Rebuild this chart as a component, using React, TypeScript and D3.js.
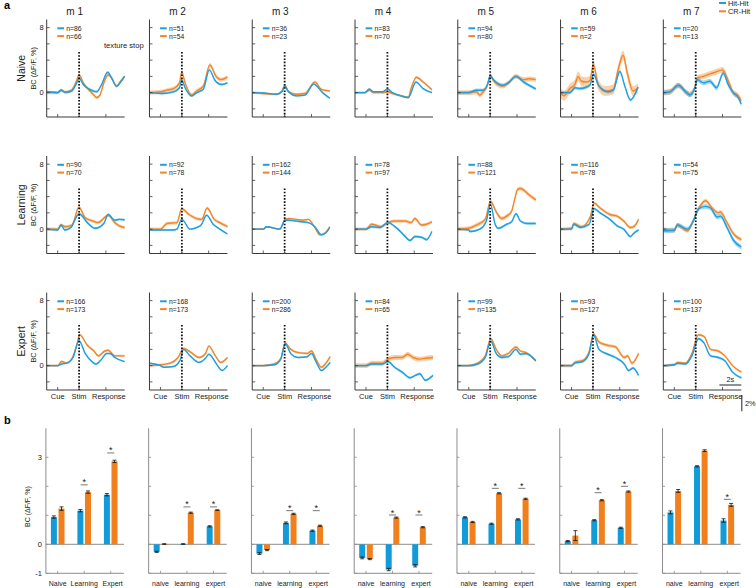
import React from "react";
import * as d3 from "d3";

type Pt = [number, number];

const FONT = "'Liberation Sans', Arial, sans-serif";
const BLUE = "#1d9fe4";
const ORANGE = "#f2862b";
const BAR_BLUE = "#119bd8";
const BAR_ORANGE = "#f07f1c";

const MICE = ["m 1", "m 2", "m 3", "m 4", "m 5", "m 6", "m 7"];
const STAGES = ["Naive", "Learning", "Expert"];
const TIME_TICKS = [1.0, 2.95, 5.39];
const TIME_LABELS = ["Cue", "Stim", "Response"];
const Y_TICKS = [-2, 0, 2, 4, 6, 8];
const Y_LABELS = [0, 8];

const N_HIT = [
  [86, 51, 36, 83, 94, 59, 20],
  [90, 92, 162, 78, 88, 116, 54],
  [166, 168, 200, 84, 99, 93, 100],
];
const N_CR = [
  [66, 54, 23, 70, 80, 2, 13],
  [70, 78, 144, 97, 121, 78, 75],
  [173, 173, 286, 65, 135, 127, 137],
];

const naiveHit: Pt[][] = [
  [[0,0.1],[1.0,0],[1.3,0.3],[1.7,0.05],[2.27,0.2],[2.73,1.2],[2.94,1.8],[3.33,1.0],[3.79,0.5],[4.24,0.2],[4.55,0.1],[5.0,1.0],[5.55,2.5],[5.91,1.8],[6.36,0.8],[6.73,1.3],[7.09,2.0]],
  [[0,0],[1.12,-0.1],[2.18,0.1],[2.73,0.6],[2.94,1.55],[3.24,0.6],[3.85,-0.4],[4.3,0],[4.9,0.4],[5.45,2.8],[5.97,1.5],[6.58,1.0],[7.1,1.2]],
  [[0,0],[1.0,-0.05],[2.2,-0.2],[2.7,0.1],[2.97,0.8],[3.2,0.3],[4.03,-0.4],[4.8,-0.3],[5.6,1.05],[6.4,0.0],[7.06,-0.7]],
  [[0,0],[0.9,0],[1.3,0.45],[1.7,0.1],[2.5,0.1],[2.97,0.45],[3.4,0],[4.2,-0.4],[4.85,-0.6],[5.55,1.3],[6.2,0.5],[7.0,0]],
  [[0,0],[1.0,0],[1.7,0.3],[2.3,0.3],[2.7,1.0],[2.95,2.05],[3.3,1.5],[4.1,0.9],[4.6,1.2],[5.3,2.0],[6.0,1.3],[6.5,0.9],[7.1,0.45]],
  [[0,0],[0.85,0],[1.3,0.6],[1.76,0.5],[2.2,0.6],[2.67,0.9],[3.0,2.25],[3.42,1.0],[3.88,0.3],[4.33,0.1],[4.8,0.3],[5.4,2.6],[5.85,0.8],[6.36,-0.9],[7.06,0.7]],
  [[0,0],[0.6,0.1],[1.36,0.9],[2.12,0],[2.42,-0.3],[2.88,0.6],[3.1,1.6],[3.64,1.2],[4.24,1.4],[4.85,0.6],[5.45,2.4],[5.9,1.0],[6.36,0],[6.82,-0.6],[7.09,-1.4]],
];
const naiveCR: Pt[][] = [
  [[0,0],[1.0,0],[1.3,0.3],[1.7,0.05],[2.27,0.3],[2.73,1.5],[2.94,2.2],[3.33,1.2],[3.79,0.4],[4.24,-0.2],[4.55,-0.6],[4.85,-0.3],[5.2,1.2],[5.6,2.2],[5.91,1.8],[6.36,0.8],[6.73,1.4],[7.09,2.0]],
  [[0,0],[1.0,0.1],[1.6,0.3],[2.2,0.5],[2.73,1.2],[2.94,2.5],[3.24,1.2],[3.85,-0.3],[4.3,0.2],[4.9,0.8],[5.5,3.4],[6.06,2.0],[6.5,1.6],[7.1,1.9]],
  [[0,0],[1.0,-0.1],[2.2,-0.2],[2.7,0.2],[2.97,0.9],[3.3,0.1],[4.03,-0.2],[4.8,-0.1],[5.7,1.3],[6.3,0.4],[7.06,0.2]],
  [[0,0],[0.9,0],[1.3,0.3],[1.7,0],[2.5,0],[2.97,0.1],[3.4,-0.1],[4.2,-0.4],[4.85,-0.6],[5.1,0.5],[5.6,1.9],[6.2,1.3],[7.0,0.35]],
  [[0,0],[1.0,0],[1.7,0.1],[2.0,-0.3],[2.3,0.1],[2.7,0.9],[2.95,2.1],[3.3,1.4],[4.1,0.8],[4.6,1.2],[5.3,2.0],[6.0,1.6],[6.5,1.7],[7.1,1.6]],
  [[0,0],[0.3,-0.4],[0.85,0.5],[1.3,1.0],[1.6,2.0],[1.9,1.4],[2.36,1.3],[2.67,1.5],[3.0,3.4],[3.42,1.0],[4.03,0.2],[4.8,0.4],[5.24,2.8],[5.7,4.6],[6.06,2.5],[6.6,0.2],[7.06,0.6]],
  [[0,0],[0.6,0.1],[1.36,0.9],[2.12,0],[2.42,-0.2],[2.88,0.7],[3.1,1.8],[3.64,2.0],[4.24,2.3],[4.7,2.5],[5.4,2.8],[5.9,1.5],[6.36,0],[6.82,-0.4],[7.09,-1.0]],
];
const learningHit: Pt[][] = [
  [[0,0],[1.0,-0.1],[1.3,0.5],[1.65,-0.1],[2.2,0.2],[2.94,1.9],[3.7,0.8],[4.4,0.1],[5.2,0.7],[5.6,1.8],[6.2,1.1],[6.6,1.2],[7.09,1.15]],
  [[0,-0.1],[1.0,-0.1],[2.2,-0.1],[2.5,0],[2.94,1.2],[3.7,0],[4.3,0.2],[4.7,0.5],[5.2,1.7],[5.8,0.6],[6.4,0],[7.1,-0.6]],
  [[0,0],[1.0,0],[1.3,0.3],[2.5,0],[3.0,1.1],[3.3,1.1],[3.9,1.0],[4.5,0.9],[5.1,0.8],[5.7,0.3],[6.3,-0.7],[6.75,-0.4],[7.06,0.2]],
  [[0,0],[1.0,0],[1.5,0.3],[2.27,0.2],[2.97,0.8],[3.9,0],[4.5,-0.8],[5.0,-1.4],[5.45,-0.9],[6.06,-1.0],[6.5,-1.3],[7.0,-0.3]],
  [[0,0],[1.0,-0.1],[1.1,-0.3],[2.0,0],[2.6,1.0],[2.97,3.1],[3.4,0.6],[3.7,0.1],[4.45,0.6],[4.9,0.9],[5.3,1.9],[5.7,1.0],[6.3,0.7],[7.1,0.7]],
  [[0,0],[1.0,0],[1.2,0.6],[1.8,0.2],[2.6,0.6],[3.05,2.5],[3.6,2.0],[4.5,1.2],[5.15,0.4],[5.75,0],[6.36,-0.9],[6.67,-0.5],[7.1,-0.1]],
  [[0,-0.2],[1.0,-0.1],[1.27,0.5],[2.2,0],[2.8,1.2],[3.2,2.5],[3.85,2.8],[4.3,2.6],[4.9,1.5],[5.2,1.6],[5.8,0.2],[6.4,-1.4],[7.1,-2.2]],
];
const learningCR: Pt[][] = [
  [[0,0],[1.0,0],[1.3,0.5],[1.7,0.3],[2.3,0.5],[2.94,2.7],[3.5,1.4],[4.2,1.0],[4.65,0.8],[5.6,1.7],[6.2,0.8],[6.6,0.4],[7.09,0.2]],
  [[0,0],[1.0,0],[1.6,0.7],[2.5,0.8],[2.94,2.5],[3.6,1.8],[4.3,1.3],[4.75,1.2],[5.25,2.6],[5.9,1.2],[6.4,0.8],[7.1,0.3]],
  [[0,0],[1.0,0],[1.3,0.3],[2.5,0],[3.0,1.2],[3.3,1.3],[4.03,1.2],[4.6,1.1],[5.1,1.2],[5.7,0.2],[6.15,-0.7],[6.6,-0.5],[7.06,0.3]],
  [[0,0],[1.0,0],[1.5,0.6],[2.4,0.3],[2.97,0.8],[3.6,1.0],[4.6,1.0],[5.1,0.8],[5.45,1.3],[6.06,0.5],[6.5,0.6],[7.0,0.9]],
  [[0,0],[1.0,0.1],[1.7,0.5],[2.5,1.2],[2.97,3.4],[3.55,2.0],[4.0,1.3],[4.45,1.6],[4.9,2.2],[5.15,3.5],[5.45,4.9],[5.7,5.0],[6.5,4.2],[7.1,3.6]],
  [[0,0],[1.0,0.1],[1.2,0.7],[1.9,0.3],[2.7,1.5],[3.05,3.2],[3.6,2.6],[4.5,1.8],[5.15,1.6],[5.75,1.0],[6.36,0.2],[6.67,0.3],[7.1,1.2]],
  [[0,0],[1.0,-0.2],[1.27,0.5],[2.2,-0.2],[2.8,1.3],[3.2,2.5],[3.85,3.5],[4.5,2.5],[5.0,2.0],[5.2,2.1],[5.8,0.8],[6.4,-0.6],[7.1,-1.3]],
];
const expertHit: Pt[][] = [
  [[0,0],[1.0,0],[1.36,0.2],[1.8,0.3],[2.4,1.0],[2.94,3.1],[3.5,1.5],[4.2,0.4],[4.5,0.2],[5.0,0.8],[5.45,1.5],[5.76,1.5],[6.2,1.0],[7.09,0.5]],
  [[0,0.3],[1.0,0],[1.3,-0.2],[2.2,-0.1],[2.8,0.7],[3.1,2.0],[3.7,1.2],[4.5,0.4],[5.1,0.9],[5.4,1.4],[6.2,0],[6.6,-0.6],[7.1,0]],
  [[0,0],[1.0,0],[2.0,0.1],[2.6,0.8],[3.0,2.7],[3.5,1.5],[4.2,1.0],[5.0,1.1],[5.4,1.5],[5.8,0.5],[6.3,-0.6],[6.7,-0.2],[7.1,0.4]],
  [[0,0],[1.0,0],[1.5,0.2],[2.5,0.2],[3.0,0.5],[3.6,-0.2],[4.3,-0.8],[5.0,-1.5],[5.5,-1.2],[5.9,-1.0],[6.4,-1.8],[7.1,-1.2]],
  [[0,0],[1.0,0],[1.8,0.2],[2.5,1.0],[3.0,3.0],[3.5,1.5],[4.0,1.0],[4.6,1.1],[5.3,2.0],[5.7,1.4],[6.2,1.5],[7.1,0.6]],
  [[0,0],[1.0,0],[1.3,0.3],[2.0,0.5],[2.6,1.5],[3.0,3.8],[3.5,2.0],[4.3,1.4],[5.0,1.0],[5.8,0.2],[6.2,-0.6],[6.6,-0.3],[7.1,-1.2]],
  [[0,0],[1.0,0.1],[1.3,0.3],[2.0,0.2],[2.6,1.2],[3.2,3.3],[3.7,2.8],[4.3,1.2],[5.0,1.0],[5.6,0.6],[6.3,-0.8],[7.1,-1.5]],
];
const expertCR: Pt[][] = [
  [[0,0],[1.0,0],[1.36,0.5],[1.8,0.3],[2.27,0.8],[2.73,2.5],[3.0,3.8],[3.7,2.5],[4.3,1.8],[4.7,1.2],[5.3,1.8],[5.6,1.9],[6.2,1.2],[7.09,1.2]],
  [[0,0],[1.0,0.1],[1.9,0.3],[2.6,1.0],[3.1,2.1],[3.7,1.7],[4.5,1.0],[5.1,1.5],[5.4,2.4],[6.0,1.2],[6.5,0.4],[7.1,1.0]],
  [[0,0],[1.0,0],[2.0,0.2],[2.6,0.9],[3.0,2.8],[3.5,2.0],[4.2,1.6],[5.0,1.5],[5.4,1.8],[5.8,0.8],[6.3,-0.2],[6.7,0.3],[7.1,1.1]],
  [[0,0],[1.0,0],[1.5,0.3],[2.5,0.3],[3.0,0.8],[3.6,1.0],[4.3,1.0],[4.8,1.4],[5.3,1.0],[5.9,0.8],[6.4,0.9],[7.1,1.0]],
  [[0,0],[1.0,0],[1.8,0.3],[2.5,1.2],[3.0,3.3],[3.5,2.0],[4.0,1.2],[4.6,1.5],[5.3,2.3],[5.7,1.8],[6.2,1.6],[7.1,0.6]],
  [[0,0],[1.0,0],[1.3,0.4],[2.0,0.6],[2.6,1.7],[3.0,3.9],[3.5,2.9],[4.3,2.5],[5.0,2.3],[5.8,1.0],[6.1,1.2],[6.5,0.3],[7.1,1.5]],
  [[0,0],[1.0,0.1],[1.3,0.4],[2.0,0.3],[2.6,1.5],[3.2,3.8],[3.7,3.6],[4.3,2.0],[5.0,1.8],[5.6,1.2],[6.3,0],[7.1,-0.8]],
];

const SEM_HIT = [
  [0.15, 0.15, 0.1, 0.1, 0.2, 0.2, 0.3],
  [0.15, 0.1, 0.1, 0.15, 0.15, 0.15, 0.3],
  [0.1, 0.1, 0.1, 0.15, 0.15, 0.15, 0.15],
];
const SEM_CR = [
  [0.2, 0.25, 0.15, 0.15, 0.3, 0.6, 0.35],
  [0.2, 0.2, 0.1, 0.2, 0.25, 0.2, 0.25],
  [0.15, 0.15, 0.15, 0.3, 0.15, 0.2, 0.15],
];

const HIT_TRACES = [naiveHit, learningHit, expertHit];
const CR_TRACES = [naiveCR, learningCR, expertCR];

// panel b
const BAR_LABELS_FIRST = ["Naive", "Learning", "Expert"];
const BAR_LABELS = ["naive", "learning", "expert"];
const BAR_TICKS = [-1, 0, 1, 2, 3];
const BAR_TICK_LABELS = [-1, 0, 3];
const barHit = [
  [0.94, 1.16, 1.71],
  [-0.26, 0.01, 0.62],
  [-0.32, 0.74, 0.47],
  [-0.47, -0.87, -0.74],
  [0.93, 0.71, 0.86],
  [0.11, 0.83, 0.57],
  [1.10, 2.69, 0.82],
];
const barCR = [
  [1.23, 1.80, 2.86],
  [0.01, 1.09, 1.18],
  [-0.20, 1.05, 0.64],
  [-0.51, 0.92, 0.59],
  [0.77, 1.76, 1.57],
  [0.30, 1.52, 1.82],
  [1.84, 3.23, 1.36],
];
const errHit = [
  [0.04, 0.04, 0.04],
  [0.02, 0.01, 0.02],
  [0.03, 0.03, 0.02],
  [0.03, 0.04, 0.04],
  [0.02, 0.02, 0.02],
  [0.02, 0.02, 0.02],
  [0.05, 0.02, 0.06],
];
const errCR = [
  [0.06, 0.04, 0.04],
  [0.01, 0.02, 0.01],
  [0.02, 0.02, 0.02],
  [0.02, 0.02, 0.02],
  [0.02, 0.02, 0.02],
  [0.17, 0.02, 0.02],
  [0.05, 0.03, 0.05],
];
const sigLine: (number | null)[][] = [
  [null, 2.05, 3.15],
  [null, 1.29, 1.29],
  [null, 1.16, 1.16],
  [null, 1.01, 1.01],
  [null, 1.93, 1.93],
  [null, 1.78, 2.0],
  [null, null, 1.55],
];

const COL_X0 = 46.7;
const COL_STEP = 102.77;
const PW = 78;
const ROW_Y0 = 117;
const ROW_STEP = 136.5;
const PH = 97.5;
const T_MAX = 7.1;
const STIM_T = 2.95;
const AXIS = "#3a3a3a";

function TracePanel({ r, c }: { r: number; c: number }) {
  const x0 = COL_X0 + c * COL_STEP;
  const yb = ROW_Y0 + r * ROW_STEP;
  const x = d3.scaleLinear().domain([0, T_MAX]).range([x0, x0 + PW]);
  const y = d3.scaleLinear().domain([-3, 9]).range([yb, yb - PH]);
  const line = d3
    .line<Pt>()
    .x((d) => x(d[0]))
    .y((d) => y(d[1]))
    .curve(d3.curveMonotoneX);
  const area = (sem: number) =>
    d3
      .area<Pt>()
      .x((d) => x(d[0]))
      .y0((d) => y(d[1] - sem))
      .y1((d) => y(d[1] + sem))
      .curve(d3.curveMonotoneX);
  const hit = HIT_TRACES[r][c];
  const cr = CR_TRACES[r][c];
  const semH = SEM_HIT[r][c];
  const semC = SEM_CR[r][c];
  const legY = y(9) + 8.8;
  const legGap = 7.8;
  return (
    <g>
      <text x={x0 + 28} y={y(9) - 5} fontSize={10} textAnchor="middle" fill="#222">
        {r === 0 ? MICE[c] : ""}
      </text>
      <path d={area(semC)(cr) || ""} fill={ORANGE} opacity={0.4} />
      <path d={area(semH)(hit) || ""} fill={BLUE} opacity={0.4} />
      <path d={line(cr) || ""} fill="none" stroke={ORANGE} strokeWidth={1.4} />
      <path d={line(hit) || ""} fill="none" stroke={BLUE} strokeWidth={1.4} />
      <line x1={x(STIM_T)} x2={x(STIM_T)} y1={y(5)} y2={y(-3)} stroke="#111" strokeWidth={1.8} strokeDasharray="1.6,1.6" />
      <line x1={x0} x2={x0} y1={y(-3)} y2={y(9)} stroke={AXIS} strokeWidth={1} />
      <line x1={x0} x2={x0 + PW} y1={y(-3)} y2={y(-3)} stroke={AXIS} strokeWidth={1} />
      {Y_TICKS.map((t) => (
        <line key={t} x1={x0} x2={x0 + 3} y1={y(t)} y2={y(t)} stroke={AXIS} strokeWidth={0.8} />
      ))}
      {TIME_TICKS.map((t) => (
        <line key={t} x1={x(t)} x2={x(t)} y1={y(-3)} y2={y(-3) - 3} stroke={AXIS} strokeWidth={0.8} />
      ))}
      {c === 0 &&
        Y_LABELS.map((t) => (
          <text key={t} x={x0 - 3} y={y(t) + 2.7} fontSize={7.5} textAnchor="end" fill="#222">
            {t}
          </text>
        ))}
      {r === 2 &&
        TIME_TICKS.map((t, i) => (
          <text key={t} x={x(t) + (i === 2 ? 3 : 0)} y={y(-3) + 9} fontSize={7.5} textAnchor="middle" fill="#222">
            {TIME_LABELS[i]}
          </text>
        ))}
      <line x1={x0 + 10.6} x2={x0 + 17.3} y1={legY} y2={legY} stroke={BLUE} strokeWidth={2} />
      <line x1={x0 + 10.6} x2={x0 + 17.3} y1={legY + legGap} y2={legY + legGap} stroke={ORANGE} strokeWidth={2} />
      <text x={x0 + 19.5} y={legY + 2.4} fontSize={6.8} fill="#222">{`n=${N_HIT[r][c]}`}</text>
      <text x={x0 + 19.5} y={legY + legGap + 2.4} fontSize={6.8} fill="#222">{`n=${N_CR[r][c]}`}</text>
      {c === 0 && (
        <g>
          <text transform={`translate(${x0 - 22},${y(3)}) rotate(-90)`} fontSize={10.5} textAnchor="middle" fill="#222">
            {STAGES[r]}
          </text>
          <text transform={`translate(${x0 - 11},${y(3)}) rotate(-90)`} fontSize={7.3} textAnchor="middle" fill="#222">
            BC (ΔF/F, %)
          </text>
        </g>
      )}
    </g>
  );
}

const B_Y0 = 573.3;
const B_UNIT = 29;

function BarPanel({ c }: { c: number }) {
  const x0 = COL_X0 - 0.8 + c * COL_STEP;
  const y = d3.scaleLinear().domain([-1, 4]).range([B_Y0, B_Y0 - 5 * B_UNIT]);
  const gx = d3.scalePoint<number>().domain([0, 1, 2]).range([x0 + 11.8, x0 + 64.8]);
  const bw = 6;
  const gap = 0.8;
  const labels = c === 0 ? BAR_LABELS_FIRST : BAR_LABELS;
  const gray = "#8c8c8c";
  return (
    <g>
      <line x1={x0} x2={x0 + PW} y1={y(0)} y2={y(0)} stroke={gray} strokeWidth={1} />
      <line x1={x0} x2={x0 + PW} y1={y(-1)} y2={y(-1)} stroke={gray} strokeWidth={1} />
      <line x1={x0} x2={x0} y1={y(-1)} y2={y(4)} stroke={gray} strokeWidth={1} />
      {BAR_TICKS.map((t) => (
        <line key={t} x1={x0} x2={x0 + 2.5} y1={y(t)} y2={y(t)} stroke={gray} strokeWidth={0.8} />
      ))}
      {[0, 1, 2].map((g) => (
        <line key={g} x1={gx(g)} x2={gx(g)} y1={y(-1)} y2={y(-1) - 2.5} stroke={gray} strokeWidth={0.8} />
      ))}
      {c === 0 &&
        BAR_TICK_LABELS.map((t) => (
          <text key={t} x={x0 - 4} y={y(t) + 2.6} fontSize={7.5} textAnchor="end" fill="#222">
            {t}
          </text>
        ))}
      {[0, 1, 2].map((g) => {
        const cx = gx(g) as number;
        const vals = [barHit[c][g], barCR[c][g]];
        const errs = [errHit[c][g], errCR[c][g]];
        const xs = [cx - gap - bw, cx + gap];
        const cols = [BAR_BLUE, BAR_ORANGE];
        const s = sigLine[c][g];
        return (
          <g key={g}>
            {vals.map((v, k) => (
              <g key={k}>
                <rect
                  x={xs[k]}
                  width={bw}
                  y={Math.min(y(v), y(0))}
                  height={Math.max(Math.abs(y(v) - y(0)), 0.6)}
                  fill={cols[k]}
                />
                <line x1={xs[k] + bw / 2} x2={xs[k] + bw / 2} y1={y(v - errs[k])} y2={y(v + errs[k])} stroke="#111" strokeWidth={0.8} />
                <line x1={xs[k] + 1} x2={xs[k] + bw - 1} y1={y(v - errs[k])} y2={y(v - errs[k])} stroke="#111" strokeWidth={0.8} />
                <line x1={xs[k] + 1} x2={xs[k] + bw - 1} y1={y(v + errs[k])} y2={y(v + errs[k])} stroke="#111" strokeWidth={0.8} />
              </g>
            ))}
            {s !== null && (
              <g>
                <line x1={cx - 3.5} x2={cx + 3.5} y1={y(s)} y2={y(s)} stroke="#555" strokeWidth={0.8} />
                <text x={cx} y={y(s) + 0.5} fontSize={9} textAnchor="middle" fill="#222">*</text>
              </g>
            )}
            <text x={cx + (g === 2 ? 2 : 0)} y={586} fontSize={7} textAnchor="middle" fill="#222">
              {labels[g]}
            </text>
          </g>
        );
      })}
      {c === 0 && (
        <text transform={`translate(${x0 - 16},${y(1.3)}) rotate(-90)`} fontSize={7} textAnchor="middle" fill="#222">
          BC (ΔF/F, %)
        </text>
      )}
    </g>
  );
}

export default function App() {
  const rows = [0, 1, 2];
  const cols = [0, 1, 2, 3, 4, 5, 6];
  const sx = d3.scaleLinear().domain([0, T_MAX]).range([0, PW]);
  const sy = d3.scaleLinear().domain([0, 12]).range([0, PH]);
  const lastX1 = COL_X0 + 6 * COL_STEP + PW;
  return (
    <svg
      width={756}
      height={588}
      style={{ position: "absolute", left: 0, top: 0, fontFamily: FONT }}
      fontFamily={FONT}
    >
      <rect width={756} height={588} fill="#fff" />
      <text x={4} y={9} fontSize={11} fontWeight="bold">a</text>
      <text x={4} y={424} fontSize={11} fontWeight="bold">b</text>
      <text x={104} y={48} fontSize={7.6} fill="#222">texture stop</text>
      {/* legend */}
      <line x1={719} x2={726} y1={3} y2={3} stroke={BLUE} strokeWidth={2} />
      <text x={728} y={5.5} fontSize={7.4} fill="#222">Hit-Hit</text>
      <line x1={719} x2={726} y1={11.3} y2={11.3} stroke={ORANGE} strokeWidth={2} />
      <text x={728} y={14} fontSize={7.4} fill="#222">CR-Hit</text>
      {rows.map((r) => cols.map((c) => <TracePanel key={`${r}-${c}`} r={r} c={c} />))}
      {/* scale bars */}
      <line x1={lastX1 - sx(2)} x2={lastX1} y1={385} y2={385} stroke="#222" strokeWidth={1} />
      <text x={lastX1 - sx(1)} y={382} fontSize={7.4} textAnchor="middle" fill="#222">2s</text>
      <line x1={lastX1 + 0.5} x2={lastX1 + 0.5} y1={395} y2={395 + sy(2)} stroke="#222" strokeWidth={1} />
      <text x={745} y={406} fontSize={7.4} fill="#222">2%</text>
      {cols.map((c) => <BarPanel key={c} c={c} />)}
    </svg>
  );
}
